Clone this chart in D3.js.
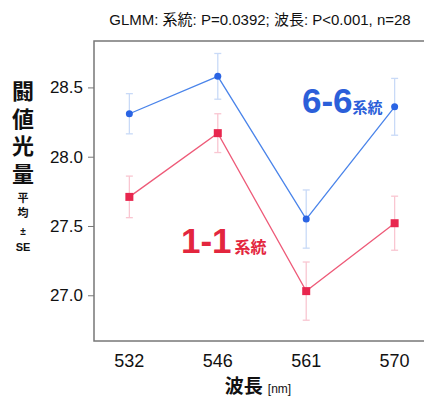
<!DOCTYPE html>
<html>
<head>
<meta charset="utf-8">
<script src="https://cdn.jsdelivr.net/npm/d3@7"></script>
<style>
  html, body { margin: 0; padding: 0; background: #fff; }
  svg { display: block; font-family: "Liberation Sans", Arial, "Noto Sans CJK JP", sans-serif; }
</style>
</head>
<body>
<script>
const wavelengths = ['532', '546', '561', '570'];
const line66Mean  = [28.31, 28.58, 27.55, 28.36];
const line66SE    = [0.145, 0.165, 0.21, 0.205];
const line11Mean  = [27.71, 28.17, 27.03, 27.52];
const line11SE    = [0.15, 0.14, 0.21, 0.195];
const yTicks      = [27.0, 27.5, 28.0, 28.5];

const width  = 424,
      height = 398,
      margin = { top: 41, right: -6, bottom: 57, left: 94 };

const svg = d3.select('body').append('svg')
  .attr('width', width)
  .attr('height', height);

const x = d3.scalePoint()
  .domain(wavelengths)
  .range([margin.left, width - margin.right])
  .padding(0.4);

const y = d3.scaleLinear()
  .domain([26.67, 28.835])
  .range([height - margin.bottom, margin.top]);

const font = '"Liberation Sans", Arial, "Noto Sans CJK JP", sans-serif';
const cjk  = '"Noto Sans CJK JP", "Liberation Sans", sans-serif';

// title
svg.append('text')
  .attr('x', 260).attr('y', 25)
  .attr('text-anchor', 'middle')
  .style('font-family', font)
  .style('font-size', '15px')
  .attr('fill', '#111')
  .text('GLMM: 系統: P=0.0392; 波長: P<0.001, n=28');

// frame
svg.append('rect')
  .attr('x', margin.left).attr('y', margin.top)
  .attr('width', width - margin.left - margin.right)
  .attr('height', height - margin.top - margin.bottom)
  .attr('fill', 'none')
  .attr('stroke', '#777')
  .attr('stroke-width', 1.5);

// y axis
const yAxis = svg.append('g')
  .attr('transform', `translate(${margin.left},0)`)
  .call(d3.axisLeft(y).tickValues(yTicks).tickFormat(d3.format('.1f')).tickSize(6).tickPadding(5));
yAxis.select('.domain').remove();
yAxis.selectAll('line').attr('stroke', '#777');
yAxis.selectAll('text')
  .style('font-family', font)
  .style('font-size', '17px')
  .attr('fill', '#111');

// x labels
svg.append('g')
  .selectAll('text')
  .data(wavelengths)
  .join('text')
  .attr('x', d => x(d))
  .attr('y', 367)
  .attr('text-anchor', 'middle')
  .style('font-family', font)
  .style('font-size', '18px')
  .attr('fill', '#111')
  .text(d => d);

// x title
const xt = svg.append('text')
  .attr('x', 258).attr('y', 393)
  .attr('text-anchor', 'middle')
  .attr('fill', '#111');
xt.append('tspan')
  .style('font-family', cjk).style('font-size', '19px').style('font-weight', 'bold')
  .text('波長');
xt.append('tspan')
  .attr('dx', 5)
  .style('font-family', font).style('font-size', '12px')
  .text('[nm]');

// y title, written vertically
svg.append('text')
  .attr('x', 23).attr('y', 80)
  .style('writing-mode', 'vertical-rl')
  .style('font-family', cjk).style('font-size', '22px').style('font-weight', 'bold')
  .style('letter-spacing', '5.5px')
  .attr('fill', '#111')
  .text('闘値光量');
svg.append('text')
  .attr('x', 23).attr('y', 192)
  .style('writing-mode', 'vertical-rl')
  .style('font-family', cjk).style('font-size', '11px').style('font-weight', 'bold')
  .style('letter-spacing', '4px')
  .attr('fill', '#111')
  .text('平均');
svg.append('text')
  .attr('x', 23).attr('y', 235)
  .attr('text-anchor', 'middle')
  .style('font-family', font).style('font-size', '10px').style('font-weight', 'bold')
  .attr('fill', '#111')
  .text('±');
svg.append('text')
  .attr('x', 23).attr('y', 251)
  .attr('text-anchor', 'middle')
  .style('font-family', font).style('font-size', '11px').style('font-weight', 'bold')
  .attr('fill', '#111')
  .text('SE');

const series = [
  { mean: line11Mean, se: line11SE, line: '#ee5a78', mark: '#e8264e', err: '#f9c6d1', shape: 'square' },
  { mean: line66Mean, se: line66SE, line: '#4a84ea', mark: '#2a64e4', err: '#c9daf7', shape: 'circle' },
];

for (const s of series) {
  const g = svg.append('g');
  const pts = wavelengths.map((w, i) => ({ w, m: s.mean[i], e: s.se[i] }));

  // error bars
  const eb = g.selectAll('.eb').data(pts).join('g');
  eb.append('line')
    .attr('x1', d => x(d.w)).attr('x2', d => x(d.w))
    .attr('y1', d => y(d.m - d.e)).attr('y2', d => y(d.m + d.e))
    .attr('stroke', s.err).attr('stroke-width', 1.3);
  for (const sign of [-1, 1]) {
    eb.append('line')
      .attr('x1', d => x(d.w) - 3.5).attr('x2', d => x(d.w) + 3.5)
      .attr('y1', d => y(d.m + sign * d.e)).attr('y2', d => y(d.m + sign * d.e))
      .attr('stroke', s.err).attr('stroke-width', 1.3);
  }

  g.append('path')
    .datum(pts)
    .attr('fill', 'none')
    .attr('stroke', s.line)
    .attr('stroke-width', 1.3)
    .attr('d', d3.line().x(d => x(d.w)).y(d => y(d.m)));

  if (s.shape === 'circle') {
    g.selectAll('circle').data(pts).join('circle')
      .attr('cx', d => x(d.w)).attr('cy', d => y(d.m)).attr('r', 3.5)
      .attr('fill', s.mark);
  } else {
    g.selectAll('rect').data(pts).join('rect')
      .attr('x', d => x(d.w) - 4).attr('y', d => y(d.m) - 4)
      .attr('width', 8).attr('height', 8)
      .attr('fill', s.mark);
  }
}

// series labels
const lab66 = svg.append('text').attr('x', 302).attr('y', 113).attr('fill', '#2b5fd9');
lab66.append('tspan').style('font-family', font).style('font-size', '35px').style('font-weight', 'bold').text('6-6');
lab66.append('tspan').style('font-family', cjk).style('font-size', '15px').style('font-weight', 'bold').text('系統');

const lab11 = svg.append('text').attr('x', 181).attr('y', 253).attr('fill', '#e3263e');
lab11.append('tspan').style('font-family', font).style('font-size', '35px').style('font-weight', 'bold').text('1-1');
lab11.append('tspan').attr('dx', 3).style('font-family', cjk).style('font-size', '16px').style('font-weight', 'bold').text('系統');
</script>
</body>
</html>
